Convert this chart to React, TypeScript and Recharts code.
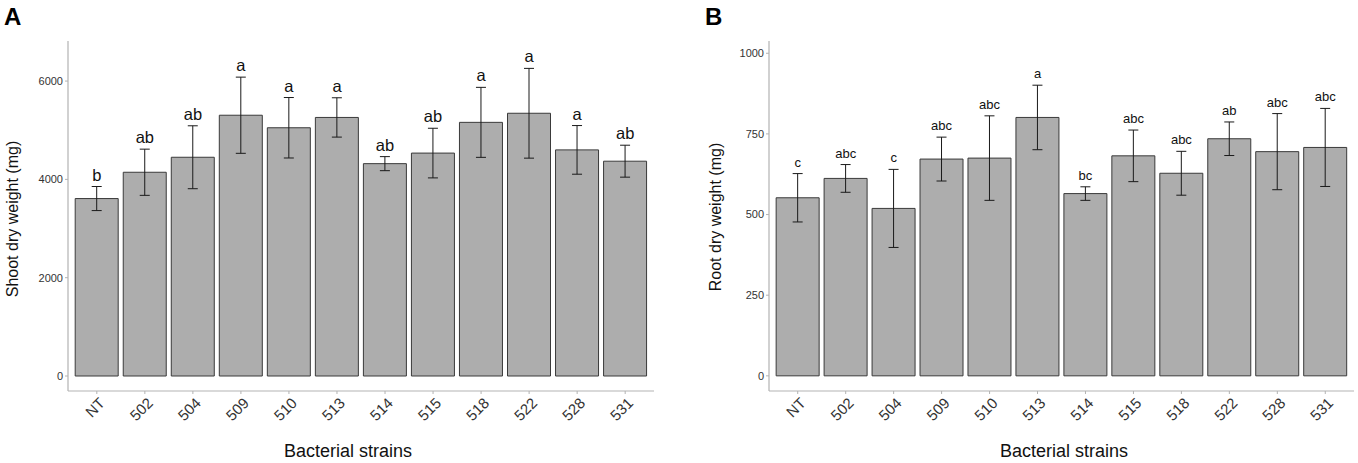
import { ComposedChart, Bar, Line, XAxis, YAxis, ErrorBar } from "recharts";

const strains = ["NT", "502", "504", "509", "510", "513", "514", "515", "518", "522", "528", "531"];

// panel A - shoot dry weight (mg)
const shootMean = [3610, 4145, 4450, 5305, 5050, 5260, 4320, 4535, 5160, 5345, 4600, 4370];
const shootErr = [245, 470, 640, 775, 615, 400, 143, 505, 712, 913, 495, 325];
const shootLetters = ["b", "ab", "ab", "a", "a", "a", "ab", "ab", "a", "a", "a", "ab"];
const shootTicks = [0, 2000, 4000, 6000];

// panel B - root dry weight (mg)
const rootMean = [552, 612, 519, 672, 675, 801, 565, 682, 628, 735, 695, 708];
const rootErr = [75, 43, 121, 68, 131, 100, 21, 80, 68, 52, 118, 121];
const rootLetters = ["c", "abc", "c", "abc", "abc", "a", "bc", "abc", "abc", "ab", "abc", "abc"];
const rootTicks = [0, 250, 500, 750, 1000];

const FONT = "'Liberation Sans', Arial, sans-serif";
const AXIS_GREY = "#b3b3b3";

const build = (mean: number[], err: number[], letters: string[]) =>
  strains.map((s, i) => ({
    strain: s,
    mean: mean[i],
    se: err[i],
    top: mean[i] + err[i],
    letter: letters[i],
  }));

const XTick = ({ x, y, payload }: any) => {
  const tx = x + 9;
  const ty = y + 8;
  return (
    <text
      x={tx}
      y={ty}
      transform={`rotate(-45, ${tx}, ${ty})`}
      textAnchor="end"
      fontSize={15}
      fontFamily={FONT}
      fill="#333"
    >
      {payload.value}
    </text>
  );
};

function Panel({
  data,
  domain,
  ticks,
  width,
  yAxisWidth,
  marginRight,
  letterSize,
  letterGap,
  padding,
}: any) {
  return (
    <ComposedChart
      width={width}
      height={463}
      data={data}
      margin={{ top: 41, right: marginRight, bottom: 0, left: 0 }}
      barCategoryGap="5%"
    >
      <XAxis
        dataKey="strain"
        height={72}
        padding={{ left: padding, right: padding }}
        axisLine={{ stroke: AXIS_GREY, strokeWidth: 1.2 }}
        tickLine={{ stroke: AXIS_GREY }}
        tickSize={3}
        tick={<XTick />}
        interval={0}
      />
      <YAxis
        width={yAxisWidth}
        type="number"
        domain={domain}
        ticks={ticks}
        allowDataOverflow
        axisLine={{ stroke: AXIS_GREY, strokeWidth: 1.2 }}
        tickLine={{ stroke: AXIS_GREY }}
        tickSize={3}
        tick={{ fontSize: 11, fill: "#333", fontFamily: FONT }}
      />
      <Bar dataKey="mean" fill="#adadad" stroke="#3a3a3a" strokeWidth={1} isAnimationActive={false}>
        <ErrorBar dataKey="se" width={5} stroke="#1a1a1a" strokeWidth={1} />
      </Bar>
      <Line
        dataKey="top"
        stroke="none"
        legendType="none"
        activeDot={false}
        isAnimationActive={false}
        dot={(p: any) => (
          <text
            key={`lt-${p.index}`}
            x={p.cx}
            y={p.cy - letterGap}
            textAnchor="middle"
            fontSize={letterSize}
            fontFamily={FONT}
            fill="#111"
          >
            {p.payload.letter}
          </text>
        )}
      />
    </ComposedChart>
  );
}

export default function App() {
  const shootData = build(shootMean, shootErr, shootLetters);
  const rootData = build(rootMean, rootErr, rootLetters);

  return (
    <div style={{ position: "absolute", left: 0, top: 0, width: 1358, height: 463, background: "#fff" }}>
      <div style={{ position: "absolute", left: 0, top: 0 }}>
        <Panel
          data={shootData}
          domain={[-305, 6815]}
          ticks={shootTicks}
          width={680}
          yAxisWidth={68}
          marginRight={26}
          letterSize={16.5}
          letterGap={6}
          padding={4.8}
        />
      </div>
      <div style={{ position: "absolute", left: 690, top: 0 }}>
        <Panel
          data={rootData}
          domain={[-47, 1038]}
          ticks={rootTicks}
          width={668}
          yAxisWidth={79}
          marginRight={4}
          letterSize={13}
          letterGap={7}
          padding={4.75}
        />
      </div>
      {/* panel letters and axis titles */}
      <svg
        width={1358}
        height={463}
        style={{ position: "absolute", left: 0, top: 0, pointerEvents: "none" }}
        fontFamily={FONT}
      >
        <text x={4} y={25} fontSize={24} fontWeight="bold" fill="#000">A</text>
        <text x={705} y={25} fontSize={24} fontWeight="bold" fill="#000">B</text>
        <text x={348} y={457} fontSize={18} textAnchor="middle" fill="#111">Bacterial strains</text>
        <text x={1064} y={457} fontSize={18} textAnchor="middle" fill="#111">Bacterial strains</text>
        <text
          x={0}
          y={0}
          fontSize={16}
          textAnchor="middle"
          fill="#111"
          transform="translate(17.5, 219) rotate(-90)"
        >
          Shoot dry weight (mg)
        </text>
        <text
          x={0}
          y={0}
          fontSize={16}
          textAnchor="middle"
          fill="#111"
          transform="translate(720.5, 217) rotate(-90)"
        >
          Root dry weight (mg)
        </text>
      </svg>
    </div>
  );
}
